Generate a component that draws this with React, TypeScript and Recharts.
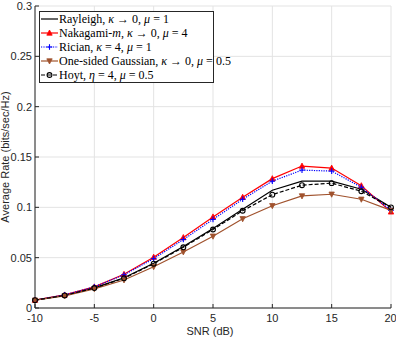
import React from 'react';
import { LineChart, Line, XAxis, YAxis, CartesianGrid, Legend } from 'recharts';

const snr = [-10, -7.5, -5, -2.5, 0, 2.5, 5, 7.5, 10, 12.5, 15, 17.5, 20];
const rayleigh = [0.0078, 0.0125, 0.0200, 0.0300, 0.0445, 0.0610, 0.0790, 0.0980, 0.1170, 0.1260, 0.1260, 0.1180, 0.1000];
const nakagami = [0.0078, 0.0130, 0.0210, 0.0335, 0.0505, 0.0700, 0.0905, 0.1100, 0.1285, 0.1410, 0.1390, 0.1215, 0.0955];
const rician = [0.0078, 0.0130, 0.0210, 0.0330, 0.0490, 0.0680, 0.0880, 0.1080, 0.1260, 0.1370, 0.1360, 0.1200, 0.0970];
const gaussian = [0.0077, 0.0120, 0.0190, 0.0278, 0.0410, 0.0557, 0.0713, 0.0886, 0.1016, 0.1113, 0.1130, 0.1080, 0.0970];
const hoyt = [0.0078, 0.0125, 0.0198, 0.0295, 0.0440, 0.0603, 0.0780, 0.0966, 0.1126, 0.1220, 0.1240, 0.1160, 0.1000];

const xTicks = [-10, -5, 0, 5, 10, 15, 20];
const yTicks = [0, 0.05, 0.1, 0.15, 0.2, 0.25, 0.3];

const data = snr.map((s, i) => ({
  snr: s,
  rayleigh: rayleigh[i],
  nakagami: nakagami[i],
  rician: rician[i],
  gaussian: gaussian[i],
  hoyt: hoyt[i],
}));

const AXIS = '#262626';
const tickStyle = { fontSize: 11, fill: AXIS, fontFamily: 'Liberation Sans, Arial, sans-serif' };

type Marker = 'none' | 'up' | 'down' | 'plus' | 'circle';

const drawMarker = (kind: Marker, cx: number, cy: number, color: string, key?: string) => {
  if (kind === 'up') {
    return <polygon key={key} points={`${cx},${cy - 3} ${cx - 2.7},${cy + 2.2} ${cx + 2.7},${cy + 2.2}`} fill={color} stroke={color} strokeWidth={0.8} />;
  }
  if (kind === 'down') {
    return <polygon key={key} points={`${cx},${cy + 3} ${cx - 2.7},${cy - 2.2} ${cx + 2.7},${cy - 2.2}`} fill={color} stroke={color} strokeWidth={0.8} />;
  }
  if (kind === 'plus') {
    return (
      <g key={key}>
        <line x1={cx - 2.8} y1={cy} x2={cx + 2.8} y2={cy} stroke={color} strokeWidth={1.1} />
        <line x1={cx} y1={cy - 2.8} x2={cx} y2={cy + 2.8} stroke={color} strokeWidth={1.1} />
      </g>
    );
  }
  if (kind === 'circle') {
    return <circle key={key} cx={cx} cy={cy} r={2.4} fill="none" stroke={color} strokeWidth={1.1} />;
  }
  return <g key={key} />;
};

const series = [
  { key: 'rayleigh', color: '#000000', dash: undefined, marker: 'none' as Marker },
  { key: 'nakagami', color: '#ff0000', dash: undefined, marker: 'up' as Marker },
  { key: 'rician', color: '#0000ff', dash: '1.2 1.2', marker: 'plus' as Marker },
  { key: 'gaussian', color: '#a0522d', dash: undefined, marker: 'down' as Marker },
  { key: 'hoyt', color: '#000000', dash: '4 2', marker: 'circle' as Marker },
];

const labels: Record<string, React.ReactNode> = {
  rayleigh: <>Rayleigh, <i>κ</i> → 0, <i>μ</i> = 1</>,
  nakagami: <>Nakagami-<i>m</i>, <i>κ</i> → 0, <i>μ</i> = 4</>,
  rician: <>Rician, <i>κ</i> = 4, <i>μ</i> = 1</>,
  gaussian: <>One-sided Gaussian, <i>κ</i> → 0, <i>μ</i> = 0.5</>,
  hoyt: <>Hoyt, <i>η</i> = 4, <i>μ</i> = 0.5</>,
};

const LegendBox = () => (
  <div
    style={{
      border: `1px solid ${AXIS}`,
      background: '#fff',
      width: 173,
      fontFamily: 'Liberation Serif, Times New Roman, serif',
      fontSize: 12,
      color: '#000',
      lineHeight: '14px',
    }}
  >
    {series.map((s) => (
      <div key={s.key} style={{ display: 'flex', alignItems: 'center', height: 14, whiteSpace: 'nowrap' }}>
        <svg width={19} height={14} style={{ flex: 'none' }}>
          <line x1={1} y1={7} x2={18} y2={7} stroke={s.color} strokeWidth={1.2} strokeDasharray={s.dash} />
          {drawMarker(s.marker, 9.5, 7, s.color)}
        </svg>
        <span>{labels[s.key]}</span>
      </div>
    ))}
  </div>
);

const App: React.FC = () => {
  return (
    <div style={{ position: 'absolute', left: 0, top: 0, width: 396, height: 338, background: '#fff' }}>
      <LineChart width={396} height={338} data={data} margin={{ top: 6, right: 5, bottom: 0, left: 0 }}>
        <CartesianGrid stroke="#e3e3e3" strokeWidth={1} horizontalValues={yTicks} verticalValues={xTicks} />
        <XAxis
          dataKey="snr"
          type="number"
          domain={[-10, 20]}
          ticks={xTicks}
          height={30}
          stroke={AXIS}
          tick={tickStyle}
          tickSize={-4}
          tickMargin={10}
          label={{ value: 'SNR (dB)', position: 'insideBottom', offset: 3, dx: -3, style: { ...tickStyle } }}
        />
        <XAxis
          xAxisId="top"
          dataKey="snr"
          type="number"
          orientation="top"
          domain={[-10, 20]}
          ticks={xTicks}
          height={0}
          stroke={AXIS}
          tick={false}
          tickSize={-4}
        />
        <YAxis
          type="number"
          domain={[0, 0.3]}
          ticks={yTicks}
          width={35}
          stroke={AXIS}
          tick={tickStyle}
          tickSize={-4}
          tickMargin={7}
          label={{ value: 'Average Rate (bits/sec/Hz)', angle: -90, position: 'center', dx: -12, style: { ...tickStyle, textAnchor: 'middle' } }}
        />
        <YAxis
          yAxisId="right"
          type="number"
          orientation="right"
          domain={[0, 0.3]}
          ticks={yTicks}
          width={0}
          stroke={AXIS}
          tick={false}
          tickSize={-4}
        />
        {series.map((s) => (
          <Line
            key={s.key}
            dataKey={s.key}
            stroke={s.color}
            strokeWidth={1.2}
            strokeDasharray={s.dash}
            isAnimationActive={false}
            dot={(p: any) => drawMarker(s.marker, p.cx, p.cy, s.color, `${s.key}-${p.index}`)}
            activeDot={false}
          />
        ))}
        <Legend
          layout="horizontal"
          verticalAlign="middle"
          align="center"
          content={() => <LegendBox />}
          wrapperStyle={{ position: 'absolute', left: 39, top: 11, width: 'auto', height: 'auto' }}
        />
      </LineChart>
    </div>
  );
};

export default App;
